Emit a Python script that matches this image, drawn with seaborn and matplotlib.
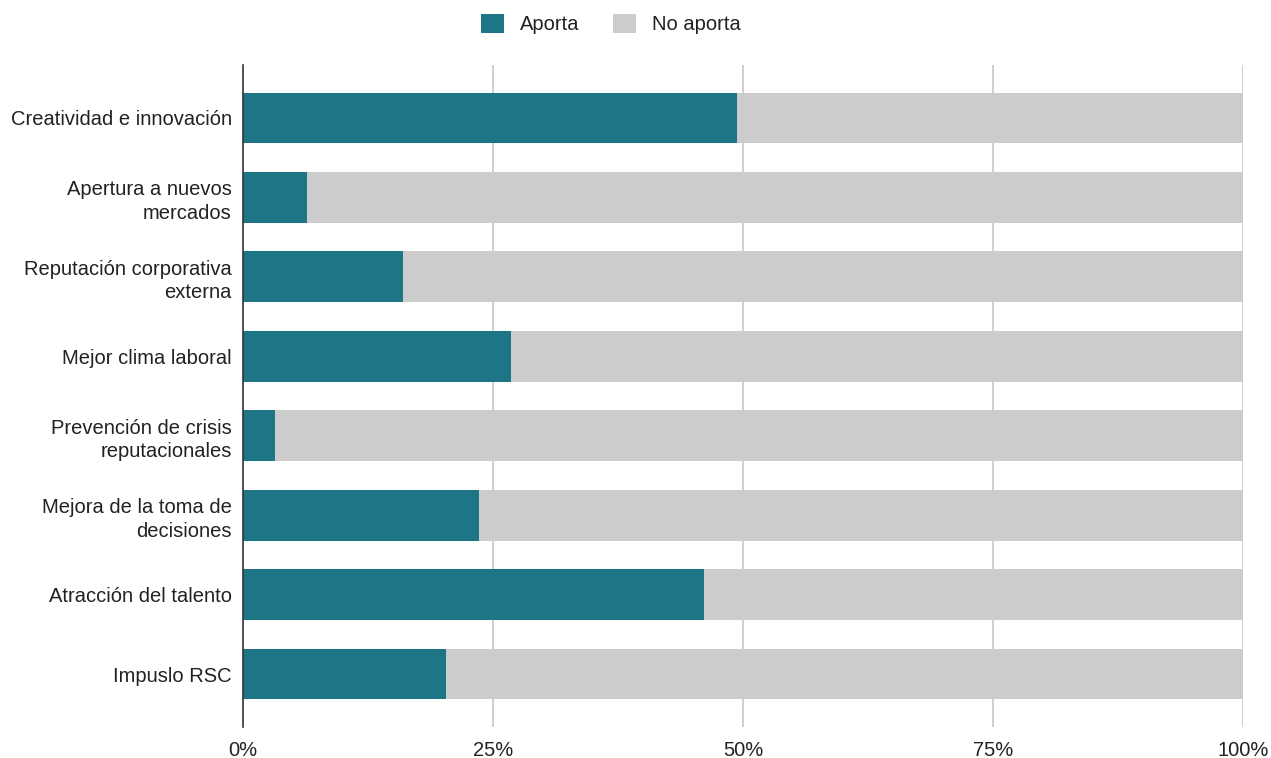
import matplotlib
matplotlib.use("Agg")
import matplotlib.pyplot as plt
import seaborn as sns
import pandas as pd
from matplotlib.patches import Patch

categories = ["Creatividad e innovación", "Apertura a nuevos\nmercados",
              "Reputación corporativa\nexterna", "Mejor clima laboral",
              "Prevención de crisis\nreputacionales", "Mejora de la toma de\ndecisiones",
              "Atracción del talento", "Impuslo RSC"]
aporta = [49.4, 6.4, 16.0, 26.8, 3.2, 23.6, 46.1, 20.3]
no_aporta = [100 - v for v in aporta]
xticks = [0, 25, 50, 75, 100]
xticklabels = ["0%", "25%", "50%", "75%", "100%"]

TEAL = "#1e7585"
GREY = "#cccccc"
FS = 14.5

sns.set_theme(style="white")
plt.rcParams["font.family"] = ["Liberation Sans", "DejaVu Sans"]

df = pd.DataFrame({"cat": categories, "aporta": aporta, "no_aporta": no_aporta})
df["total"] = df["aporta"] + df["no_aporta"]

fig = plt.figure(figsize=(12.71, 7.58), dpi=100)
ax = fig.add_axes([243 / 1271, 1 - 727 / 758, 1000 / 1271, 662 / 758])

sns.barplot(data=df, y="cat", x="total", color=GREY, orient="h", width=0.64,
            saturation=1, ax=ax, zorder=2)
sns.barplot(data=df, y="cat", x="aporta", color=TEAL, orient="h", width=0.64,
            saturation=1, ax=ax, zorder=3)
for p in ax.patches:
    p.set_linewidth(0)

ax.set_xlim(0, 100)
ax.set_ylim(7.667, -0.667)
ax.set_xticks(xticks)
ax.set_xticklabels(xticklabels, fontsize=FS, color="#222222")
ax.tick_params(axis="y", labelsize=FS, labelcolor="#222222", length=0, pad=8)
ax.tick_params(axis="x", length=0, pad=10)
for lab in ax.get_yticklabels():
    lab.set_horizontalalignment("right")
    lab.set_multialignment("right")
    lab.set_linespacing(1.3)
ax.set_xlabel("")
ax.set_ylabel("")
for x in xticks[1:]:
    ax.axvline(x, color="#cccccc", lw=1.3, zorder=1)
for s in ["top", "right", "bottom"]:
    ax.spines[s].set_visible(False)
ax.spines["left"].set_color("#333333")
ax.spines["left"].set_linewidth(1.2)
ax.spines["left"].set_zorder(5)

handles = [Patch(facecolor=TEAL, edgecolor="none"), Patch(facecolor=GREY, edgecolor="none")]
fig.legend(handles, ["Aporta", "No aporta"], loc="center", bbox_to_anchor=(611 / 1271, 1 - 24 / 758),
           ncol=2, frameon=False, fontsize=FS, handlelength=1.1, handleheight=1.1,
           columnspacing=1.7, handletextpad=0.8, labelcolor="#222222")

fig.savefig("out.png", dpi=100)
